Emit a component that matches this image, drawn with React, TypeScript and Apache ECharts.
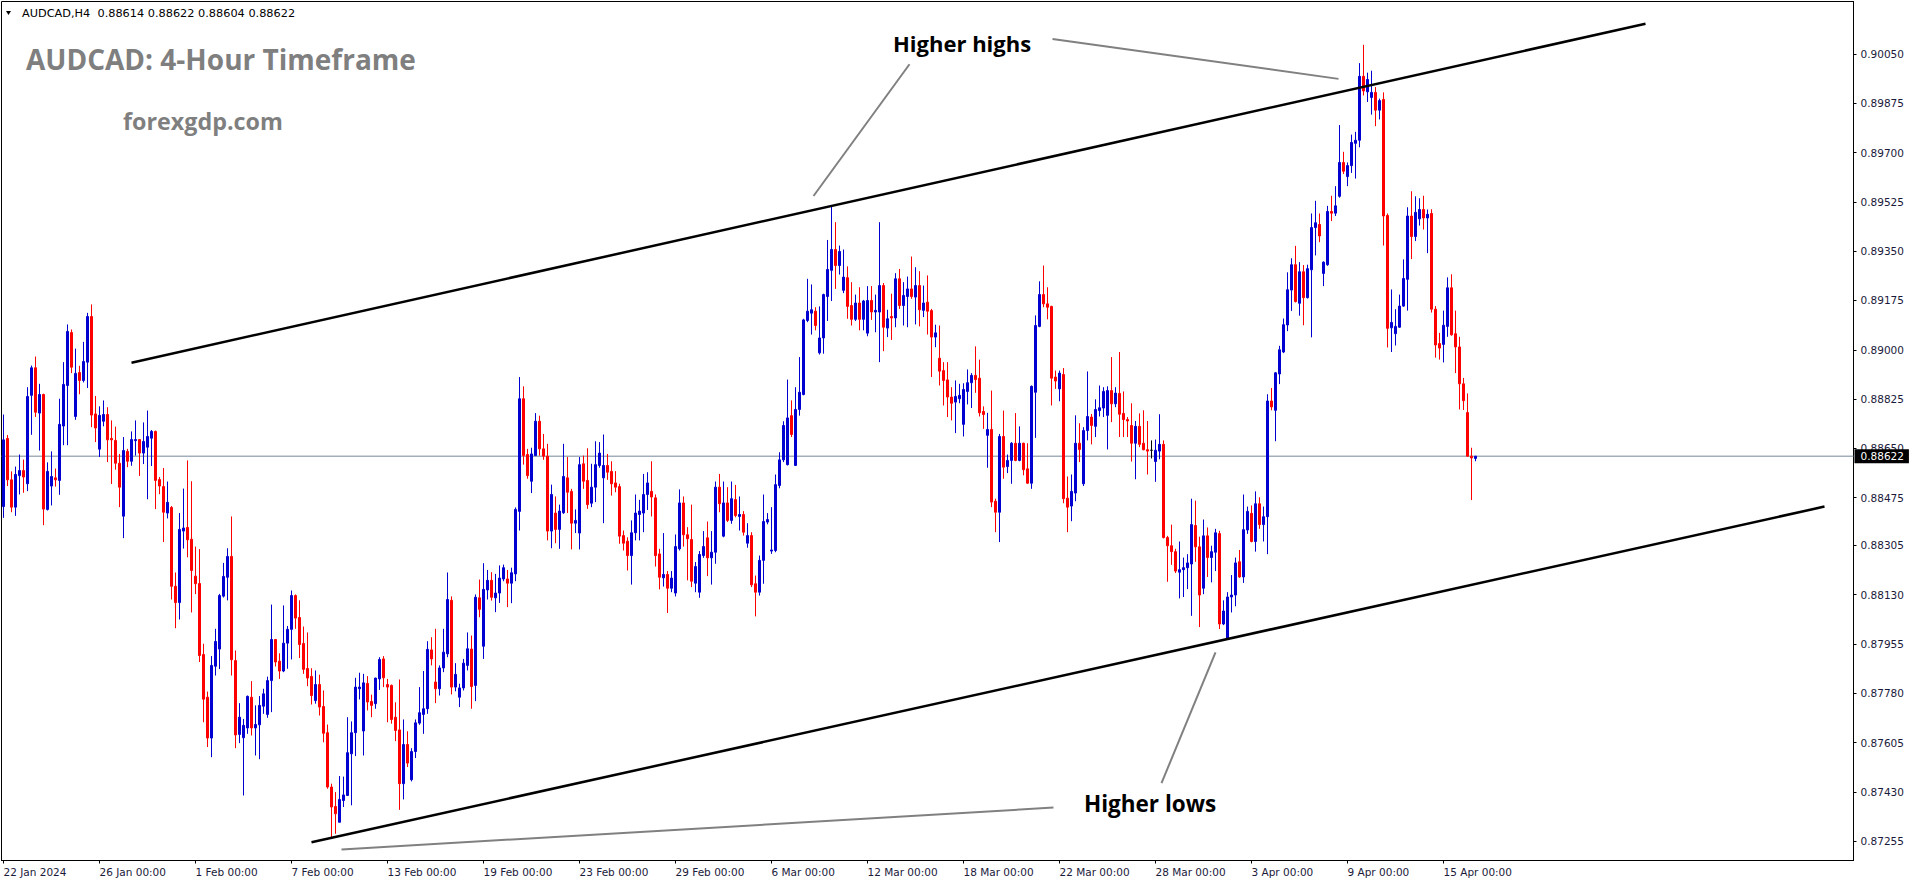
import React, { useEffect, useRef } from "react";
import * as echarts from "echarts";

// Prices in units of 0.00001 (pips of the 5th decimal)
const OPEN = [
  88443, 88685, 88538, 88441, 88553, 88571, 88524, 88838, 88936, 88775, 88841, 88433, 88516, 88545, 88536, 88729, 88873, 89061, 88763, 88919,
  88891, 88956, 89118, 88772, 88647, 88746, 88770, 88685, 88678, 88597, 88409, 88639, 88604, 88677, 88681, 88633, 88654, 88686, 88710, 88539,
  88514, 88420, 88440, 88160, 88102, 88356, 88369, 88327, 88196, 88170, 87918, 87766, 87621, 87876, 87937, 88125, 88192, 88266, 87896, 87634,
  87622, 87657, 87766, 87657, 87668, 87734, 87705, 87825, 87971, 87894, 87859, 87958, 88007, 88127, 88049, 87957, 87868, 87840, 87754, 87811,
  87733, 87640, 87447, 87378, 87322, 87399, 87417, 87565, 87640, 87796, 87646, 87815, 87751, 87743, 87831, 87902, 87811, 87808, 87695, 87650,
  87459, 87598, 87473, 87573, 87674, 87705, 87725, 87934, 87820, 87796, 87870, 87920, 88110, 87802, 87766, 87799, 87879, 87937, 87808, 88119,
  87947, 88147, 88181, 88119, 88136, 88186, 88186, 88171, 88204, 88426, 88826, 88628, 88533, 88624, 88746, 88648, 88622, 88356, 88420, 88362,
  88421, 88545, 88497, 88384, 88349, 88595, 88536, 88455, 88512, 88589, 88545, 88589, 88568, 88527, 88514, 88340, 88320, 88269, 88350, 88415,
  88420, 88486, 88497, 88474, 88275, 88190, 88202, 88153, 88136, 88293, 88456, 88343, 88326, 88171, 88139, 88269, 88332, 88261, 88281, 88512,
  88338, 88456, 88394, 88468, 88408, 88415, 88313, 88340, 88169, 88139, 88252, 88388, 88285, 88287, 88518, 88609, 88592, 88766, 88589, 88788,
  88841, 89104, 89130, 89137, 88989, 89042, 89189, 89282, 89356, 89299, 89211, 89256, 89157, 89108, 89166, 89108, 89059, 89175, 89134, 89134,
  89228, 89077, 89118, 89113, 89252, 89157, 89189, 89216, 89187, 89228, 89140, 89169, 89139, 89045, 88970, 88926, 88893, 88832, 88814, 88826,
  88735, 88852, 88883, 88909, 88899, 88781, 88696, 88717, 88462, 88423, 88692, 88585, 88607, 88668, 88607, 88668, 88577, 88526, 88849, 89083,
  89196, 89163, 89154, 88903, 88861, 88912, 88473, 88445, 88491, 88668, 88524, 88713, 88761, 88728, 88784, 88793, 88767, 88855, 88808, 88845,
  88774, 88752, 88731, 88668, 88728, 88668, 88645, 88643, 88603, 88640, 88664, 88333, 88304, 88283, 88210, 88219, 88226, 88239, 88376, 88300,
  88153, 88339, 88262, 88281, 88347, 88026, 87976, 88122, 88129, 88247, 88193, 88360, 88419, 88319, 88453, 88379, 88407, 88818, 88785, 88914,
  88992, 89088, 89212, 89302, 89165, 89277, 89185, 89284, 89434, 89445, 89271, 89302, 89491, 89485, 89545, 89665, 89615, 89654, 89733, 89744,
  89971, 89916, 89896, 89914, 89851, 89889, 89477, 89078, 89057, 89080, 89155, 89250, 89475, 89402, 89465, 89498, 89468, 89484, 89144, 89022,
  89019, 89083, 89220, 89057, 89010, 88879, 88777, 88622, 88614,
];
const HIGH = [
  88770, 88697, 88568, 88585, 88628, 88610, 88867, 88944, 88976, 88879, 88844, 88600, 88639, 88578, 88826, 88956, 89090, 89072, 89004, 88943,
  89028, 89131, 89161, 88836, 88799, 88820, 88796, 88749, 88727, 88630, 88690, 88648, 88710, 88749, 88681, 88742, 88784, 88715, 88713, 88548,
  88580, 88532, 88445, 88209, 88420, 88507, 88607, 88533, 88301, 88292, 87956, 87786, 87912, 88009, 88133, 88243, 88295, 88408, 87932, 87745,
  87689, 87772, 87823, 87737, 87770, 87796, 87839, 88095, 87973, 87922, 88092, 88019, 88145, 88131, 88110, 88017, 87996, 87869, 87861, 87846,
  87790, 87669, 87459, 87429, 87486, 87484, 87695, 87680, 87835, 87853, 87849, 87841, 87775, 87835, 87908, 87912, 87831, 87811, 87748, 87829,
  87687, 87645, 87585, 87687, 87802, 87859, 87965, 87979, 88009, 87879, 88009, 88209, 88124, 87887, 87814, 87902, 87996, 87985, 88131, 88184,
  88242, 88218, 88210, 88204, 88234, 88237, 88218, 88226, 88440, 88903, 88870, 88648, 88652, 88775, 88766, 88701, 88666, 88521, 88479, 88450,
  88666, 88619, 88506, 88433, 88619, 88624, 88650, 88595, 88675, 88672, 88699, 88630, 88604, 88569, 88524, 88358, 88334, 88394, 88486, 88467,
  88559, 88565, 88604, 88486, 88293, 88349, 88214, 88214, 88344, 88504, 88479, 88370, 88450, 88246, 88285, 88356, 88390, 88356, 88532, 88559,
  88532, 88512, 88532, 88520, 88479, 88427, 88384, 88352, 88198, 88269, 88486, 88420, 88441, 88557, 88636, 88746, 88894, 88820, 88867, 88974,
  89110, 89252, 89232, 89151, 89154, 89199, 89390, 89510, 89453, 89370, 89356, 89296, 89240, 89196, 89222, 89177, 89226, 89226, 89196, 89453,
  89237, 89142, 89199, 89272, 89287, 89240, 89260, 89331, 89293, 89279, 89228, 89264, 89145, 89089, 89086, 88956, 88956, 88867, 88891, 88879,
  88881, 88930, 88917, 89012, 88965, 88799, 88776, 88855, 88471, 88701, 88784, 88628, 88672, 88775, 88728, 88670, 88668, 88873, 89122, 89243,
  89299, 89222, 89156, 88926, 88926, 88935, 88550, 88557, 88767, 88739, 88725, 88923, 88772, 88824, 88873, 88867, 88870, 88974, 88867, 88992,
  88852, 88761, 88810, 88747, 88774, 88785, 88747, 88678, 88681, 88771, 88678, 88339, 88379, 88293, 88319, 88262, 88274, 88471, 88464, 88336,
  88397, 88369, 88304, 88364, 88357, 88110, 88139, 88200, 88262, 88289, 88486, 88443, 88447, 88497, 88476, 88443, 88842, 88864, 88921, 89014,
  89111, 89275, 89325, 89369, 89311, 89301, 89302, 89484, 89529, 89484, 89314, 89511, 89547, 89581, 89798, 89703, 89665, 89764, 89774, 90018,
  90083, 89984, 89991, 89933, 89892, 89914, 89484, 89214, 89144, 89196, 89321, 89506, 89563, 89545, 89538, 89547, 89498, 89499, 89155, 89060,
  89139, 89257, 89268, 89139, 89046, 88900, 88845, 88652, 88622,
];
const LOW = [
  88403, 88516, 88423, 88410, 88486, 88492, 88498, 88698, 88761, 88642, 88377, 88429, 88447, 88514, 88485, 88661, 88661, 88917, 88751, 88842,
  88884, 88864, 88725, 88672, 88619, 88728, 88601, 88523, 88574, 88441, 88331, 88583, 88588, 88624, 88552, 88594, 88469, 88587, 88434, 88487,
  88317, 88401, 88113, 88011, 88042, 88294, 88263, 88067, 88132, 87891, 87677, 87589, 87553, 87843, 87866, 88120, 88110, 87843, 87585, 87603,
  87417, 87636, 87630, 87559, 87546, 87707, 87693, 87713, 87875, 87831, 87855, 87867, 87900, 88009, 87905, 87849, 87805, 87740, 87743, 87701,
  87606, 87441, 87263, 87281, 87322, 87376, 87417, 87382, 87557, 87758, 87559, 87719, 87695, 87725, 87792, 87802, 87677, 87672, 87610, 87366,
  87403, 87518, 87467, 87550, 87668, 87636, 87707, 87879, 87745, 87772, 87855, 87908, 87776, 87787, 87731, 87790, 87861, 87725, 87752, 88050,
  87902, 88113, 88109, 88068, 88101, 88178, 88086, 88100, 88178, 88358, 88592, 88542, 88491, 88624, 88624, 88609, 88323, 88295, 88313, 88293,
  88417, 88420, 88291, 88349, 88291, 88506, 88435, 88441, 88459, 88581, 88384, 88538, 88482, 88494, 88311, 88287, 88216, 88166, 88323, 88323,
  88352, 88431, 88408, 88230, 88149, 88159, 88065, 88139, 88124, 88287, 88301, 88181, 88157, 88139, 88119, 88261, 88196, 88166, 88240, 88423,
  88334, 88388, 88382, 88405, 88358, 88340, 88297, 88157, 88053, 88127, 88169, 88380, 88275, 88281, 88508, 88601, 88589, 88690, 88589, 88766,
  88838, 89098, 89054, 89069, 88983, 88986, 89102, 89173, 89216, 89267, 89201, 89110, 89086, 89102, 89069, 89069, 89048, 89106, 89062, 88956,
  88995, 89045, 89035, 89080, 89145, 89086, 89080, 89181, 89090, 89083, 89116, 89054, 88903, 89009, 88873, 88802, 88761, 88749, 88704, 88810,
  88692, 88806, 88793, 88847, 88763, 88719, 88581, 88441, 88352, 88317, 88542, 88562, 88524, 88604, 88604, 88554, 88524, 88506, 88687, 89080,
  89151, 89108, 88802, 88861, 88817, 88455, 88352, 88391, 88462, 88601, 88516, 88678, 88664, 88690, 88763, 88761, 88646, 88743, 88796, 88690,
  88690, 88690, 88603, 88540, 88654, 88643, 88557, 88614, 88531, 88611, 88330, 88176, 88236, 88207, 88117, 88122, 88150, 88055, 88247, 88015,
  88132, 88193, 88174, 88214, 88008, 88022, 87972, 88067, 88089, 88190, 88172, 88346, 88316, 88283, 88364, 88319, 88274, 88785, 88675, 88878,
  88988, 89066, 89138, 89168, 89121, 89087, 89182, 89044, 89335, 89382, 89226, 89298, 89457, 89475, 89540, 89624, 89581, 89628, 89608, 89719,
  89903, 89880, 89835, 89794, 89818, 89370, 89008, 88992, 89015, 89078, 89152, 89139, 89322, 89386, 89441, 89427, 89343, 89132, 88972, 88965,
  88955, 89046, 89050, 88917, 88788, 88786, 88620, 88466, 88604,
];
const CLOSE = [
  88680, 88538, 88441, 88557, 88571, 88548, 88834, 88936, 88778, 88841, 88434, 88568, 88550, 88538, 88735, 88877, 89065, 88938, 88916, 88891,
  88958, 89118, 88768, 88722, 88767, 88770, 88680, 88680, 88597, 88512, 88642, 88604, 88681, 88681, 88633, 88674, 88692, 88710, 88536, 88516,
  88423, 88458, 88160, 88102, 88362, 88367, 88325, 88216, 88169, 87914, 87759, 87621, 87879, 87964, 88127, 88195, 88266, 87899, 87632, 87695,
  87666, 87769, 87657, 87669, 87737, 87778, 87825, 87971, 87891, 87859, 87958, 88007, 88127, 88047, 87953, 87865, 87834, 87772, 87811, 87731,
  87638, 87447, 87376, 87352, 87403, 87419, 87569, 87640, 87802, 87802, 87817, 87749, 87737, 87834, 87900, 87835, 87802, 87687, 87648, 87459,
  87598, 87532, 87573, 87675, 87711, 87725, 87936, 87902, 87796, 87870, 87926, 88113, 87802, 87847, 87799, 87887, 87938, 87804, 88121, 88078,
  88149, 88181, 88121, 88136, 88189, 88226, 88171, 88208, 88433, 88826, 88624, 88553, 88630, 88746, 88648, 88622, 88356, 88486, 88362, 88427,
  88550, 88494, 88384, 88394, 88592, 88533, 88450, 88512, 88592, 88633, 88589, 88565, 88524, 88512, 88338, 88313, 88269, 88350, 88420, 88427,
  88486, 88527, 88477, 88269, 88192, 88202, 88153, 88189, 88301, 88456, 88343, 88329, 88178, 88230, 88273, 88301, 88261, 88281, 88512, 88453,
  88456, 88394, 88471, 88411, 88415, 88352, 88340, 88165, 88139, 88252, 88390, 88397, 88289, 88521, 88609, 88731, 88758, 88699, 88788, 88849,
  89106, 89137, 89142, 89086, 89042, 89196, 89285, 89356, 89299, 89349, 89258, 89154, 89108, 89166, 89108, 89173, 89175, 89134, 89140, 89228,
  89080, 89110, 89113, 89252, 89157, 89193, 89216, 89189, 89228, 89142, 89166, 89137, 89045, 89060, 88924, 88891, 88832, 88810, 88834, 88838,
  88859, 88883, 88909, 88894, 88776, 88770, 88717, 88459, 88423, 88692, 88583, 88607, 88668, 88607, 88668, 88574, 88526, 88870, 89086, 89196,
  89163, 89151, 88899, 88889, 88917, 88471, 88441, 88497, 88668, 88646, 88713, 88763, 88731, 88788, 88794, 88852, 88855, 88808, 88846, 88771,
  88752, 88747, 88668, 88728, 88664, 88645, 88640, 88643, 88643, 88664, 88333, 88304, 88283, 88214, 88219, 88226, 88243, 88379, 88300, 88129,
  88339, 88262, 88283, 88350, 88026, 88072, 88122, 88129, 88243, 88193, 88361, 88426, 88319, 88453, 88379, 88407, 88818, 88797, 88918, 89000,
  89089, 89213, 89302, 89171, 89277, 89185, 89288, 89434, 89451, 89404, 89311, 89491, 89485, 89511, 89665, 89634, 89654, 89736, 89744, 89971,
  89919, 89960, 89914, 89851, 89885, 89475, 89076, 89097, 89083, 89155, 89253, 89475, 89402, 89488, 89498, 89468, 89481, 89144, 89017, 89006,
  89087, 89220, 89053, 89010, 88879, 88819, 88622, 88616, 88622,
];

const PIP = 100000;
const X_TICK_LABELS = [
  "22 Jan 2024", "26 Jan 00:00", "1 Feb 00:00", "7 Feb 00:00", "13 Feb 00:00", "19 Feb 00:00",
  "23 Feb 00:00", "29 Feb 00:00", "6 Mar 00:00", "12 Mar 00:00", "18 Mar 00:00", "22 Mar 00:00",
  "28 Mar 00:00", "3 Apr 00:00", "9 Apr 00:00", "15 Apr 00:00",
];
const BARS_PER_LABEL = 24;
const SLOT_COUNT = 463; // visible bar slots including the empty right-hand shift
const Y_TICK_LABELS = [
  "0.90050", "0.89875", "0.89700", "0.89525", "0.89350", "0.89175", "0.89000", "0.88825", "0.88650",
  "0.88475", "0.88305", "0.88130", "0.87955", "0.87780", "0.87605", "0.87430", "0.87255",
];
const Y_MIN = 0.871861;
const Y_MAX = 0.902368;
const LAST_PRICE = 0.88622;
const HEADER = "AUDCAD,H4  0.88614 0.88622 0.88604 0.88622";

// Drawn lines as [barIndex, price] pairs
const UPPER_CHANNEL = [[32, 0.88954], [410.5, 0.90158]];
const LOWER_CHANNEL = [[77, 0.87251], [455.25, 0.88443]];
const HH_POINTER_LEFT = [[226.5, 0.90014], [202.5, 0.89546]];
const HH_POINTER_RIGHT = [[262.25, 0.90104], [333.75, 0.89962]];
const HL_POINTER_UP = [[303, 0.87925], [289.5, 0.87461]];
const HL_POINTER_LEFT = [[262.5, 0.87374], [84.5, 0.87225]];

const BLUE = "#0000d0";
const RED = "#ff0000";
const AXIS_FONT = "DejaVu Sans";
const AXIS_COLOR = "#1a1a3a";

function lineSeries(points: number[][], color: string, width: number) {
  return {
    type: "line",
    xAxisIndex: 1,
    yAxisIndex: 0,
    data: points,
    symbol: "none",
    silent: true,
    z: 5,
    lineStyle: { color, width },
  };
}

export default function App() {
  const ref = useRef<HTMLDivElement>(null);

  useEffect(() => {
    if (!ref.current) return;
    const chart = echarts.init(ref.current, null, { renderer: "svg" });
    const categories = Array.from({ length: SLOT_COUNT }, (_, i) => String(i));
    const candles = OPEN.map((o, i) => [o / PIP, CLOSE[i] / PIP, LOW[i] / PIP, HIGH[i] / PIP]);
    const yTickValues = Y_TICK_LABELS.map((s) => parseFloat(s));
    const showTick = (i: number) => i % BARS_PER_LABEL === 0 && i / BARS_PER_LABEL < X_TICK_LABELS.length;

    chart.setOption({
      animation: false,
      backgroundColor: "#ffffff",
      grid: {
        left: 1.5,
        right: 62.5,
        top: 1.5,
        bottom: 23.5,
        show: true,
        borderColor: "#000000",
        borderWidth: 1,
        backgroundColor: "transparent",
      },
      xAxis: [
        {
          type: "category",
          data: categories,
          boundaryGap: true,
          axisLine: { show: true, lineStyle: { color: "#000", width: 1 } },
          axisTick: {
            show: true,
            alignWithLabel: true,
            interval: (i: number) => showTick(i),
            length: 3,
            lineStyle: { color: "#000" },
          },
          axisLabel: {
            interval: (i: number) => showTick(i),
            formatter: (_v: string, i: number) => X_TICK_LABELS[i / BARS_PER_LABEL] ?? "",
            align: "left",
            margin: 6,
            color: AXIS_COLOR,
            fontFamily: AXIS_FONT,
            fontSize: 10.5,
          },
          splitLine: { show: false },
        },
        { type: "value", min: -0.5, max: SLOT_COUNT - 0.5, show: false },
      ],
      yAxis: {
        type: "value",
        position: "right",
        min: Y_MIN,
        max: Y_MAX,
        axisLine: { show: true, onZero: false, lineStyle: { color: "#000", width: 1 } },
        axisTick: { show: true, length: 3, customValues: yTickValues, lineStyle: { color: "#000" } },
        axisLabel: {
          customValues: yTickValues,
          formatter: (v: number) => v.toFixed(5),
          margin: 7,
          color: AXIS_COLOR,
          fontFamily: AXIS_FONT,
          fontSize: 10.5,
        },
        splitLine: { show: false },
      },
      series: [
        {
          type: "line",
          xAxisIndex: 1,
          yAxisIndex: 0,
          data: [[-0.5, LAST_PRICE], [SLOT_COUNT - 0.5, LAST_PRICE]],
          symbol: "none",
          silent: true,
          z: 2,
          lineStyle: { color: "#778899", width: 1 },
          endLabel: {
            show: true,
            distance: 1,
            formatter: () => LAST_PRICE.toFixed(5),
            backgroundColor: "#000",
            color: "#fff",
            fontFamily: AXIS_FONT,
            fontSize: 10.5,
            padding: [2, 5, 1, 6],
          },
        },
        {
          type: "candlestick",
          xAxisIndex: 0,
          yAxisIndex: 0,
          data: candles,
          barWidth: 2,
          z: 3,
          itemStyle: {
            color: BLUE,
            color0: RED,
            borderColor: BLUE,
            borderColor0: RED,
            borderColorDoji: "#000000",
            borderWidth: 1,
          },
        },
        lineSeries(UPPER_CHANNEL, "#000000", 2.5),
        lineSeries(LOWER_CHANNEL, "#000000", 2.5),
        lineSeries(HH_POINTER_LEFT, "#808080", 2),
        lineSeries(HH_POINTER_RIGHT, "#808080", 2),
        lineSeries(HL_POINTER_UP, "#808080", 2),
        lineSeries(HL_POINTER_LEFT, "#808080", 2),
      ],
      graphic: [
        { type: "polygon", shape: { points: [[6, 11], [11, 11], [8.5, 15]] }, style: { fill: "#000" }, z: 10 },
        {
          type: "text",
          x: 22,
          y: 13,
          z: 10,
          style: { text: HEADER, fill: "#000", font: `11.3px "${AXIS_FONT}"`, verticalAlign: "middle", align: "left" },
        },
        {
          type: "text",
          x: 26,
          y: 59,
          z: 10,
          style: { text: "AUDCAD: 4-Hour Timeframe", fill: "#7f7f7f", font: 'bold 28px "Open Sans"', verticalAlign: "middle", align: "left" },
        },
        {
          type: "text",
          x: 123,
          y: 121,
          z: 10,
          style: { text: "forexgdp.com", fill: "#7f7f7f", font: 'bold 23.3px "Open Sans"', verticalAlign: "middle", align: "left" },
        },
        {
          type: "text",
          x: 893,
          y: 43,
          z: 10,
          style: { text: "Higher highs", fill: "#000", font: 'bold 22px "Open Sans"', verticalAlign: "middle", align: "left" },
        },
        {
          type: "text",
          x: 1084,
          y: 803,
          z: 10,
          style: { text: "Higher lows", fill: "#000", font: 'bold 22.5px "Open Sans"', verticalAlign: "middle", align: "left" },
        },
      ],
    });
    return () => chart.dispose();
  }, []);

  return (
    <div
      ref={ref}
      style={{ position: "fixed", left: 0, top: 0, width: 1916, height: 884, background: "#fff" }}
    />
  );
}
